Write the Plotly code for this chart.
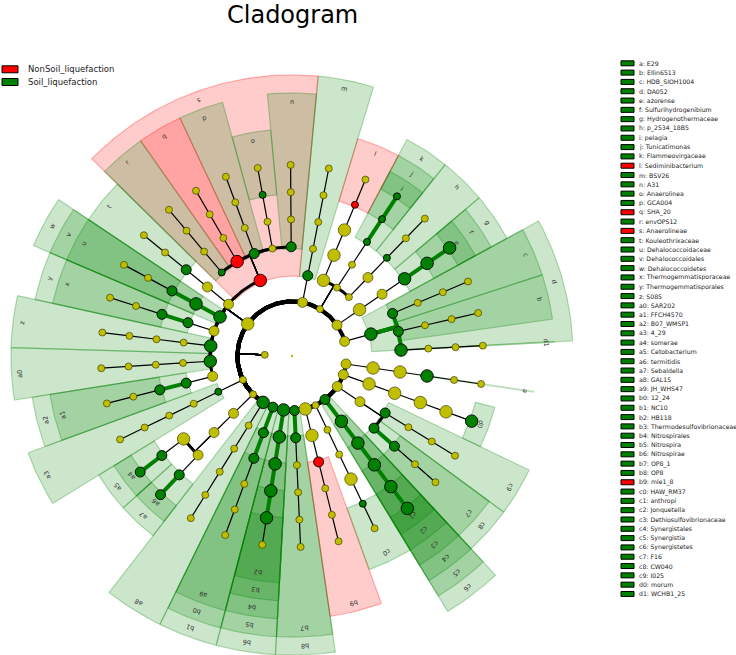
import math
import plotly.graph_objects as go

# ---------------- data ----------------
title_text = "Cladogram"
group_names = ["NonSoil_liquefaction", "Soil_liquefaction"]
group_colors = ["#ff0000", "#008000"]

# one lineage per leaf (phylum class order family genus species); letters = highlighted clades
leaf_lineages = [
    "p_1 d d1 f_0 g_0 s_0",
    "p_1 d b f_1 g_1 s_1",
    "p_1 d c f_2 g_2 s_2",
    "p_2 c_3 o_3 g f e",
    "p_3 c_4 o_4 h g_4 s_4",
    "p_3 c_5 o_5 k j i",
    "p_3 c_6 o_6 f_6 l s_6",
    "p_4 m o_7 f_7 g_7 s_7",
    "p_5 s n f_8 g_8 s_8",
    "p_5 s o_9 f_9 o s_9",
    "p_5 s p f_10 g_10 s_10",
    "p_5 s q f_11 g_11 s_11",
    "p_5 s r f_12 g_12 s_12",
    "p_5 c_13 o_13 t g_13 s_13",
    "p_5 w v u g_14 s_14",
    "p_5 c_15 y x g_15 s_15",
    "p_5 z o_16 f_16 g_16 s_16",
    "p_5 a0 o_17 f_17 g_17 s_17",
    "p_5 c_18 a2 a1 g_18 s_18",
    "p_6 a3 o_19 f_19 g_19 s_19",
    "p_7 c_20 o_20 f_20 a5 a4",
    "p_7 c_20 o_20 f_21 a7 a6",
    "a8 c_22 o_22 f_22 g_22 s_22",
    "b1 b0 a9 f_23 g_23 s_23",
    "b6 b5 b4 b3 b2 s_24",
    "b8 b7 o_25 f_25 g_25 s_25",
    "p_12 c_26 b9 f_26 g_26 s_26",
    "p_13 c_27 o_27 f_27 c0 s_27",
    "c6 c5 c4 c3 c2 c1",
    "p_15 c_29 c8 c7 g_29 s_29",
    "p_15 c_29 c9 f_30 g_30 s_30",
    "p_16 c_31 o_31 f_31 g_31 d0",
    "p_17 c_32 o_32 a g_32 s_32",
]

clade_letters = ["a", "b", "c", "d", "e", "f", "g", "h", "i", "j", "k", "l", "m",
                 "n", "o", "p", "q", "r", "s", "t", "u", "v", "w", "x", "y", "z",
                 "a0", "a1", "a2", "a3", "a4", "a5", "a6", "a7", "a8", "a9",
                 "b0", "b1", "b2", "b3", "b4", "b5", "b6", "b7", "b8", "b9",
                 "c0", "c1", "c2", "c3", "c4", "c5", "c6", "c7", "c8", "c9",
                 "d0", "d1"]
clade_taxa = ["E29", "Ellin6513", "HDB_SIOH1004", "DA052", "azorense",
              "Sulfurihydrogenibium", "Hydrogenothermaceae", "p_2534_18B5",
              "pelagia", "Tunicatimonas", "Flammeovirgaceae", "Sediminibacterium",
              "BSV26", "A31", "Anaerolinea", "GCA004", "SHA_20", "envOPS12",
              "Anaerolineae", "Kouleothrixaceae", "Dehalococcoidaceae",
              "Dehalococcoidales", "Dehalococcoidetes", "Thermogemmatisporaceae",
              "Thermogemmatisporales", "S085", "SAR202", "FFCH4570", "B07_WMSP1",
              "4_29", "somerae", "Cetobacterium", "termitidis", "Sebaldella",
              "GAL15", "JH_WHS47", "12_24", "NC10", "HB118",
              "Thermodesulfovibrionaceae", "Nitrospirales", "Nitrospira",
              "Nitrospirae", "OP8_1", "OP8", "mle1_8", "HAW_RM37", "anthropi",
              "Jonquetella", "Dethiosulfovibrionaceae", "Synergistales",
              "Synergistia", "Synergistetes", "F16", "CW040", "I025", "morum",
              "WCHB1_25"]
# 0 = NonSoil_liquefaction, 1 = Soil_liquefaction
clade_groups = [1, 1, 1, 1, 1, 1, 1, 1, 1, 1, 1, 0, 1,
                1, 1, 1, 0, 1, 0, 1, 1, 1, 1, 1, 1, 1,
                1, 1, 1, 1, 1, 1, 1, 1, 1, 1,
                1, 1, 1, 1, 1, 1, 1, 1, 1, 0,
                1, 1, 1, 1, 1, 1, 1, 1, 1, 1,
                1, 1]

# relative abundance classes of the nodes (others are small)
big_nodes = ["d", "d1", "c_3", "g", "f", "e", "c_6", "o_6", "f_6", "p_5", "s",
             "q", "z", "a0", "f_20", "a8", "b6", "b5", "b4", "b3", "b2", "p_12",
             "c_26", "f_27", "c5", "c4", "c3", "c2", "c1", "c_31", "o_31",
             "f_31", "g_31", "d0", "c_32", "o_32", "a", "v", "w"]
medium_nodes = ["p_1", "p_2", "o_3", "o_4", "b", "c", "p_4", "m", "n", "p",
                "c_13", "o_13", "t", "u", "c_15", "y", "x", "c_18", "a2", "a1",
                "c_20", "o_20", "f_21", "a5", "a4", "a7", "a6", "b1", "b0", "a9",
                "b8", "b7", "b9", "c6", "p_15", "c_29", "c8", "c7", "c9",
                "p_16", "p_17"]

# ---------------- layout parameters ----------------
W, H = 736, 655
CX, CY = 292, 356          # root position in pixels
R_STEP = 27.3              # radius per taxonomic level
BAND_STEP = 18             # width of each label ring
START_ANGLE = 3.1
CLADE_SEP = 0.119          # extra separation per differing level
INNER_SHIFT = 2.5
SIZE_PX = {"s": 7, "m": 10, "b": 12.5}
COL = {"y": "#bfbf00", "g": group_colors[1], "r": group_colors[0]}

# ---------------- build tree ----------------
lineages = [s.split() for s in leaf_lineages]
n = len(lineages)
ROOT, KING = "root", "k__Bacteria"
parent, level, leaves_of = {}, {ROOT: 0, KING: 1}, {}
parent[KING] = ROOT
for i, lin in enumerate(lineages):
    path = [ROOT, KING] + lin
    for d, node in enumerate(path):
        leaves_of.setdefault(node, []).append(i)
        if d > 0 and node not in parent:
            parent[node] = path[d - 1]
            level[node] = d


def ndiff(a, b):
    k = 0
    while k < len(a) and a[k] == b[k]:
        k += 1
    return len(a) - k


gap_units = [1 + CLADE_SEP * ndiff(lineages[i], lineages[(i + 1) % n]) for i in range(n)]
unit = 360.0 / sum(gap_units)
gaps = [g * unit for g in gap_units]
leaf_angle = [START_ANGLE]
for i in range(n - 1):
    leaf_angle.append(leaf_angle[-1] + gaps[i])
hw_lo = [0 if i in (0, n - 1) else gaps[i - 1] / 2 for i in range(n)]
hw_hi = [0 if i in (0, n - 1) else gaps[i] / 2 for i in range(n)]

angle, radius = {}, {}
for node, lv in leaves_of.items():
    ang = sum(leaf_angle[i] for i in lv) / len(lv)
    if len(lv) > 1:
        ang += INNER_SHIFT
    angle[node] = ang
    radius[node] = level[node] * R_STEP

clade_group_of = {c: g for c, g in zip(clade_letters, clade_groups)}


def node_color(node):
    if node in clade_group_of:
        return "g" if clade_group_of[node] == 1 else "r"
    return "y"


def xy(r, th):
    t = math.radians(th)
    return r * math.cos(t), r * math.sin(t)


def arc_pts(r, t0, t1, step=1.0):
    k = max(2, int(abs(t1 - t0) / step) + 2)
    return [xy(r, t0 + (t1 - t0) * j / (k - 1)) for j in range(k)]


fig = go.Figure()

# ---------------- highlighted clade bands ----------------
R_LEAF = 7 * R_STEP
band_info = []
for letter in clade_letters:
    lv = leaves_of[letter]
    lo = min(leaf_angle[i] - hw_lo[i] for i in lv)
    hi = max(leaf_angle[i] + hw_hi[i] for i in lv)
    r_out = R_LEAF + BAND_STEP * (8 - level[letter])
    r_in = radius[letter] - 2
    band_info.append((level[letter], letter, lo, hi, r_in, r_out))

band_info.sort(key=lambda b: b[0])
annotations = []
for lv, letter, lo, hi, r_in, r_out in band_info:
    grp = clade_group_of[letter]
    rgb = "0,128,0" if grp == 1 else "255,0,0"
    if hi - lo < 0.01:
        p0, p1 = xy(r_in, lo), xy(r_out, lo)
        fig.add_trace(go.Scatter(x=[p0[0], p1[0]], y=[p0[1], p1[1]], mode="lines",
                                 line=dict(color=f"rgba({rgb},0.25)", width=2),
                                 hoverinfo="skip"))
    else:
        pts = arc_pts(r_out, lo, hi) + arc_pts(r_in, hi, lo)
        pts.append(pts[0])
        fig.add_trace(go.Scatter(x=[p[0] for p in pts], y=[p[1] for p in pts],
                                 mode="lines", fill="toself",
                                 fillcolor=f"rgba({rgb},0.2)",
                                 line=dict(color=f"rgba({rgb},0.28)", width=1.2),
                                 hoverinfo="skip"))
    mid = (lo + hi) / 2
    lx, ly = xy(r_out - 9, mid)
    ta = ((90 - mid + 180) % 360) - 180
    annotations.append(dict(x=lx, y=ly, xref="x", yref="y", text=letter,
                            showarrow=False, textangle=ta,
                            font=dict(size=6.5, color="#333333", family="DejaVu Sans")))

# ---------------- edges ----------------
thin_x, thin_y, arc_x, arc_y, ring_x, ring_y, gx, gy = [], [], [], [], [], [], [], []
for node, p in parent.items():
    if p == ROOT:
        continue
    rp, tp = radius[p], angle[p]
    rc, tc = radius[node], angle[node]
    radial = [xy(rp, tp), xy(rc, tp)]
    arc = arc_pts(rc, tp, tc) if abs(tc - tp) > 1e-6 else []
    if node_color(node) == "g" and node_color(p) == "g":
        for q in radial + arc:
            gx.append(q[0]); gy.append(q[1])
        gx.append(None); gy.append(None)
    else:
        for q in radial:
            thin_x.append(q[0]); thin_y.append(q[1])
        thin_x.append(None); thin_y.append(None)
        if arc:
            tx, ty = (ring_x, ring_y) if p == KING else (arc_x, arc_y)
            for q in arc:
                tx.append(q[0]); ty.append(q[1])
            tx.append(None); ty.append(None)

fig.add_trace(go.Scatter(x=thin_x, y=thin_y, mode="lines",
                         line=dict(color="black", width=1.2), hoverinfo="skip"))
fig.add_trace(go.Scatter(x=arc_x, y=arc_y, mode="lines",
                         line=dict(color="black", width=3), hoverinfo="skip"))
fig.add_trace(go.Scatter(x=ring_x, y=ring_y, mode="lines",
                         line=dict(color="black", width=4), hoverinfo="skip"))
fig.add_trace(go.Scatter(x=gx, y=gy, mode="lines",
                         line=dict(color=group_colors[1], width=4), hoverinfo="skip"))

# ---------------- nodes ----------------
nx, ny, ns, nc, nl = [], [], [], [], []
for node in leaves_of:
    if node == ROOT:
        nx.append(0); ny.append(0)
        ns.append(2.5); nc.append(COL["y"]); nl.append("rgba(0,0,0,0)")
        continue
    x, y = xy(radius[node], angle[node])
    nx.append(x); ny.append(y)
    sz = "b" if node in big_nodes else ("m" if node in medium_nodes else "s")
    ns.append(SIZE_PX[sz])
    c = node_color(node)
    nc.append(COL[c])
    nl.append("black" if c != "y" else "rgba(60,60,0,0.75)")
fig.add_trace(go.Scatter(x=nx, y=ny, mode="markers",
                         marker=dict(size=ns, color=nc, opacity=1,
                                     line=dict(color=nl, width=0.9)),
                         hoverinfo="skip"))

# ---------------- title and legends ----------------
def px(x):
    return x / W


def py(y):
    return 1 - y / H


annotations.append(dict(x=px(292), y=py(0), xref="paper", yref="paper",
                        text=title_text, showarrow=False, xanchor="center",
                        yanchor="top", borderpad=0,
                        font=dict(size=24, color="black", family="DejaVu Sans")))
shapes = []
for k, (gname, gcol) in enumerate(zip(group_names, group_colors)):
    yc = 69.3 + 12.7 * k
    shapes.append(dict(type="rect", xref="paper", yref="paper",
                       x0=px(2), x1=px(18), y0=py(yc - 3.5), y1=py(yc + 3.5),
                       fillcolor=gcol, line=dict(color="black", width=1)))
    annotations.append(dict(x=px(26), y=py(yc), xref="paper", yref="paper",
                            text=gname, showarrow=False, xanchor="left",
                            yanchor="middle",
                            font=dict(size=8.5, color="#222222", family="DejaVu Sans")))

for k, (letter, taxon, grp) in enumerate(zip(clade_letters, clade_taxa, clade_groups)):
    yc = 63.3 + 9.31 * k
    shapes.append(dict(type="rect", xref="paper", yref="paper",
                       x0=px(621), x1=px(634), y0=py(yc - 2.5), y1=py(yc + 2.5),
                       fillcolor=group_colors[grp], line=dict(color="black", width=1)))
    annotations.append(dict(x=px(637), y=py(yc), xref="paper", yref="paper",
                            text=f"{letter}: {taxon}", showarrow=False,
                            xanchor="left", yanchor="middle",
                            font=dict(size=6.2, color="#222222", family="DejaVu Sans")))

fig.update_layout(
    width=W, height=H, margin=dict(l=0, r=0, t=0, b=0),
    xaxis=dict(range=[-CX, W - CX], visible=False, fixedrange=True),
    yaxis=dict(range=[CY - H, CY], visible=False, fixedrange=True),
    plot_bgcolor="white", paper_bgcolor="white",
    showlegend=False, hovermode=False,
    annotations=annotations, shapes=shapes,
)
fig.write_html("out.html", config={"displayModeBar": False},
               post_script="document.body.style.margin='0px';"
                           "document.body.style.overflow='hidden';")
